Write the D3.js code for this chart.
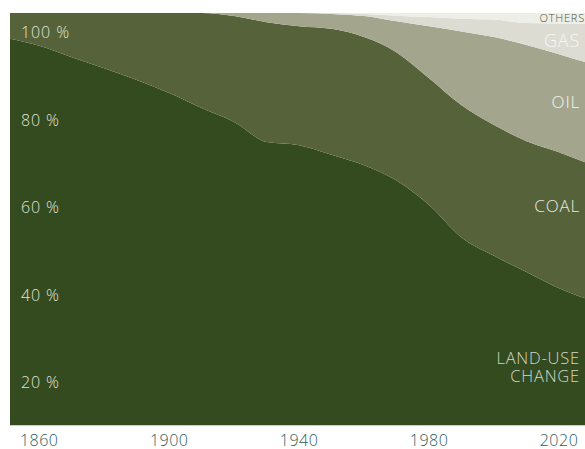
<!DOCTYPE html>
<html>
<head>
<meta charset="utf-8">
<script src="https://cdn.jsdelivr.net/npm/d3@7"></script>
<style>
  body { margin: 0; background: #fff; }
  svg { display: block; font-family: "Open Sans", "Noto Sans", sans-serif; }
</style>
</head>
<body>
<div id="chart"></div>
<script>
// Data (share of cumulative emissions, %)
let years = [1851, 1860, 1870, 1880, 1890, 1900, 1910, 1920, 1930, 1940, 1950, 1960, 1970, 1980, 1990, 2000, 2010, 2020, 2028];
let landUse = [94.1, 92.5, 89.9, 87.4, 84.7, 81.7, 78.3, 75.1, 70.5, 69.8, 67.6, 65.2, 61.7, 56.1, 48.7, 44.5, 40.8, 37.1, 34.8];
let coal = [5.9, 7.5, 10.1, 12.6, 15.3, 18.3, 21.7, 24.2, 27.4, 27.2, 28.8, 29.3, 29.3, 29.0, 30.2, 29.9, 29.9, 31.1, 31.1];
let oil = [0, 0, 0, 0, 0, 0, 0, 0.7, 2.1, 3.0, 3.4, 4.8, 7.1, 11.9, 16.9, 20.1, 22.0, 22.4, 22.9];
let gas = [0, 0, 0, 0, 0, 0, 0, 0, 0, 0, 0.2, 0.5, 1.3, 2.1, 2.9, 4.0, 5.0, 7.0, 8.7];
let others = [0, 0, 0, 0, 0, 0, 0, 0, 0, 0, 0, 0.2, 0.6, 0.9, 1.3, 1.5, 2.3, 2.4, 2.5];

let keys = ["landUse", "coal", "oil", "gas", "others"];
let colors = ["#344a1f", "#566239", "#a3a68d", "#dddcd3", "#eeeee8"];
let yTicks = [100, 80, 60, 40, 20];
let xTicks = [1860, 1900, 1940, 1980, 2020];

let svgWidth = 585;
let svgHeight = 449;
let plot = { left: 10, right: 585, top: 13, bottom: 425 };

let svg = d3.select("#chart").append("svg").attr("width", svgWidth).attr("height", svgHeight);

let table = years.map((yr, i) => ({
  year: yr, landUse: landUse[i], coal: coal[i], oil: oil[i], gas: gas[i], others: others[i]
}));

// Scales
let x = d3.scaleLinear().domain([1851, 2028]).range([plot.left, plot.right]);
let y = d3.scaleLinear().domain([0, 100]).range([450.5, plot.top]);

let series = d3.stack().keys(keys)(table);

svg.append("clipPath").attr("id", "plotClip")
  .append("rect")
  .attr("x", plot.left).attr("y", plot.top)
  .attr("width", plot.right - plot.left).attr("height", plot.bottom - plot.top);

let area = d3.area()
  .curve(d3.curveMonotoneX)
  .x(d => x(d.data.year))
  .y0(d => y(d[0]))
  .y1(d => y(d[1]));

svg.append("g").attr("clip-path", "url(#plotClip)")
  .selectAll("path")
  .data(series)
  .enter()
  .append("path")
  .attr("fill", (d, i) => colors[i])
  .attr("d", area);

// baseline
svg.append("line")
  .attr("x1", plot.left).attr("x2", plot.right)
  .attr("y1", plot.bottom + 0.5).attr("y2", plot.bottom + 0.5)
  .attr("stroke", "#cfcdb4").attr("stroke-width", 1);

// Y labels inside plot
svg.append("g").selectAll("text")
  .data(yTicks)
  .enter()
  .append("text")
  .attr("x", 21)
  .attr("y", d => y(d) + 25)
  .attr("font-size", 16)
  .attr("font-weight", 300)
  .attr("letter-spacing", 0.9)
  .attr("fill", "#e0e3d7")
  .text(d => d + " %");

// X labels
svg.append("g").selectAll("text")
  .data(xTicks)
  .enter()
  .append("text")
  .attr("x", d => x(d))
  .attr("y", 446)
  .attr("text-anchor", "middle")
  .attr("font-size", 16)
  .attr("font-weight", 300)
  .attr("letter-spacing", 0.5)
  .attr("fill", "#2a5d62")
  .text(d => d);

// Series labels
let labels = [
  { text: "OTHERS", y: 22, size: 11, x: 585, fill: "#4b5636" },
  { text: "GAS", y: 47, size: 18, x: 580, fill: "#f7f7f3" },
  { text: "OIL", y: 108, size: 17, x: 580, fill: "#f4f4ef" },
  { text: "COAL", y: 212, size: 17, x: 580, fill: "#e8e9e0" },
  { text: "LAND-USE", y: 364, size: 16.5, x: 580, fill: "#d3d7c9" },
  { text: "CHANGE", y: 382, size: 16.5, x: 580, fill: "#d3d7c9" }
];

svg.append("g").selectAll("text")
  .data(labels)
  .enter()
  .append("text")
  .attr("x", d => d.x)
  .attr("y", d => d.y)
  .attr("text-anchor", "end")
  .attr("font-size", d => d.size)
  .attr("font-weight", 300)
  .attr("letter-spacing", 0.8)
  .attr("fill", d => d.fill)
  .text(d => d.text);
</script>
</body>
</html>
